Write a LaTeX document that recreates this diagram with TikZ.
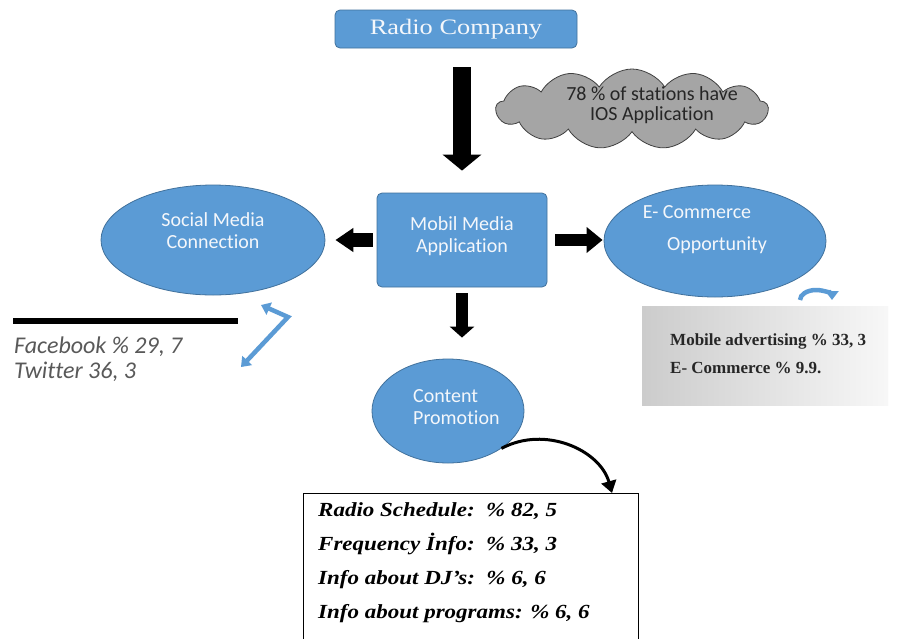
\documentclass[tikz,border=0pt]{standalone}
\usepackage{fontspec}
\setmainfont{Liberation Serif}
\newfontfamily\calfont[RawFeature=-liga]{Carlito}
\newfontfamily\rcfont[FakeStretch=1.2]{Liberation Serif}
\newfontfamily\bxfont[FakeStretch=1.15]{Liberation Serif}
\usetikzlibrary{shapes.geometric,shapes.symbols,arrows.meta,calc}
\definecolor{bfill}{HTML}{5B9BD5}
\definecolor{bline}{HTML}{41719C}
\definecolor{cgray}{HTML}{A5A5A5}
\definecolor{tgray}{HTML}{595959}
\definecolor{ltext}{HTML}{F4F7FB}
\begin{document}
\begin{tikzpicture}[x=1pt,y=-1pt,
  rbox/.style={draw=bline, fill=bfill, rounded corners=5pt, line width=0.8pt, inner sep=0},
  oval/.style={ellipse, draw=bline, fill=bfill, line width=0.8pt, inner sep=0},
  lbl/.style={font=\calfont\fontsize{20}{22}\selectfont, text=ltext, align=center, inner sep=0},
  blockarrow/.style={draw=black, line width=#1},
  bluearrow/.style={draw=bfill, line width=4.5pt, {Triangle[length=9pt,width=13pt]}-{Triangle[length=9pt,width=13pt]}}
]
\useasboundingbox[fill=white] (0,0) rectangle (898,638);

% nodes
\node[rbox, minimum width=242pt, minimum height=38pt, font=\rcfont\fontsize{22}{24}\selectfont, text=ltext] (rc) at (456,29) {Radio Company};

\node[cloud, cloud puffs=13, cloud puff arc=115, cloud ignores aspect, draw=black!75, fill=cgray, line width=0.8pt, minimum width=272pt, minimum height=80pt, inner sep=0] (cl) at (632,109) {};
\node[font=\calfont\fontsize{20}{20}\selectfont, align=center, text=black!85, inner sep=0] (clt) at (652,105) {78 \% of stations have\\IOS Application};

\node[rbox, minimum width=170pt, minimum height=94pt] (mm) at (462,240) {};
\node[lbl] (mmt) at (462,236) {Mobil Media\\Application};

\node[oval, minimum width=224pt, minimum height=110pt] (smc) at (213,240) {};
\node[lbl] (smct) at (213,231) {Social Media\\Connection};

\node[oval, minimum width=222pt, minimum height=112pt] (ec) at (715,241) {};
\node[lbl] (ect1) at (697,212) {E- Commerce};
\node[lbl] (ect2) at (717,245) {Opportunity};

\node[oval, minimum width=152pt, minimum height=104pt] (cp) at (448,411) {};
\node[lbl, align=left, anchor=west] (cpt) at (413,407) {Content\\Promotion};

% content box
\node[draw=black, line width=0.9pt, minimum width=335pt, minimum height=150pt, anchor=north west, inner sep=0] (bx) at (303,493) {};
\node[anchor=north west, font=\bxfont\bfseries\itshape\fontsize{20}{34}\selectfont, align=left, inner sep=0] (bxt) at (318,502)
  {Radio Schedule:~~\% 82, 5\\Frequency İnfo:~~\% 33, 3\\Info about DJ’s:~~\% 6, 6\\Info about programs: \% 6, 6};

% gray box
\node[left color=black!20, right color=black!3, minimum width=246pt, minimum height=99pt, anchor=north west, inner sep=0] (gb) at (642,306) {};
\node[anchor=north west, font=\bfseries\fontsize{17}{28}\selectfont, align=left, inner sep=0, text=black!85] (gbt) at (670,333)
  {Mobile advertising \% 33, 3\\E- Commerce \% 9.9.};

% social texts
\node[anchor=north west, font=\calfont\itshape\fontsize{24}{25}\selectfont, align=left, inner sep=0, text=tgray] (fbt) at (14,337)
  {Facebook \% 29, 7\\Twitter 36, 3};
\coordinate (lnA) at (13,321);
\coordinate (lnB) at (238,321);
\draw[line width=6pt] (lnA) -- (lnB);

% block arrows
\draw[blockarrow=18pt, -{Triangle[length=16pt,width=38pt]}, shorten <=19pt, shorten >=22pt] (rc.south -| mm.north) -- (mm.north);
\draw[blockarrow=14pt, -{Triangle[length=18pt,width=23pt]}, shorten <=4pt, shorten >=10pt] (mm.west) -- (mm.west -| smc.east);
\draw[blockarrow=12pt, -{Triangle[length=16pt,width=25pt]}, shorten <=8pt, shorten >=1pt] (mm.east) -- (mm.east -| ec.west);
\draw[blockarrow=12pt, -{Triangle[length=11pt,width=24pt]}, shorten <=6pt, shorten >=21pt] (mm.south) -- (mm.south |- cp.north);

% curved black arrow
\coordinate (cpEnd) at (612,493);
\draw[line width=3pt, -{Triangle[length=12pt,width=15pt]}] (cp.-35) .. controls (545,425) and (600,450) .. (cpEnd);

% blue elbow arrow
\coordinate (bA) at (261,305);
\coordinate (bB) at (288,317);
\coordinate (bC) at (241,367);
\draw[bluearrow] (bA) -- (bB) -- (bC);

% blue curved arrow
\coordinate (ecA) at (800,300);
\draw[draw=bfill, line width=4.5pt, -{Triangle[length=9pt,width=13pt]}] (ecA) arc (180:0:16pt and 10pt);
\end{tikzpicture}
\end{document}
